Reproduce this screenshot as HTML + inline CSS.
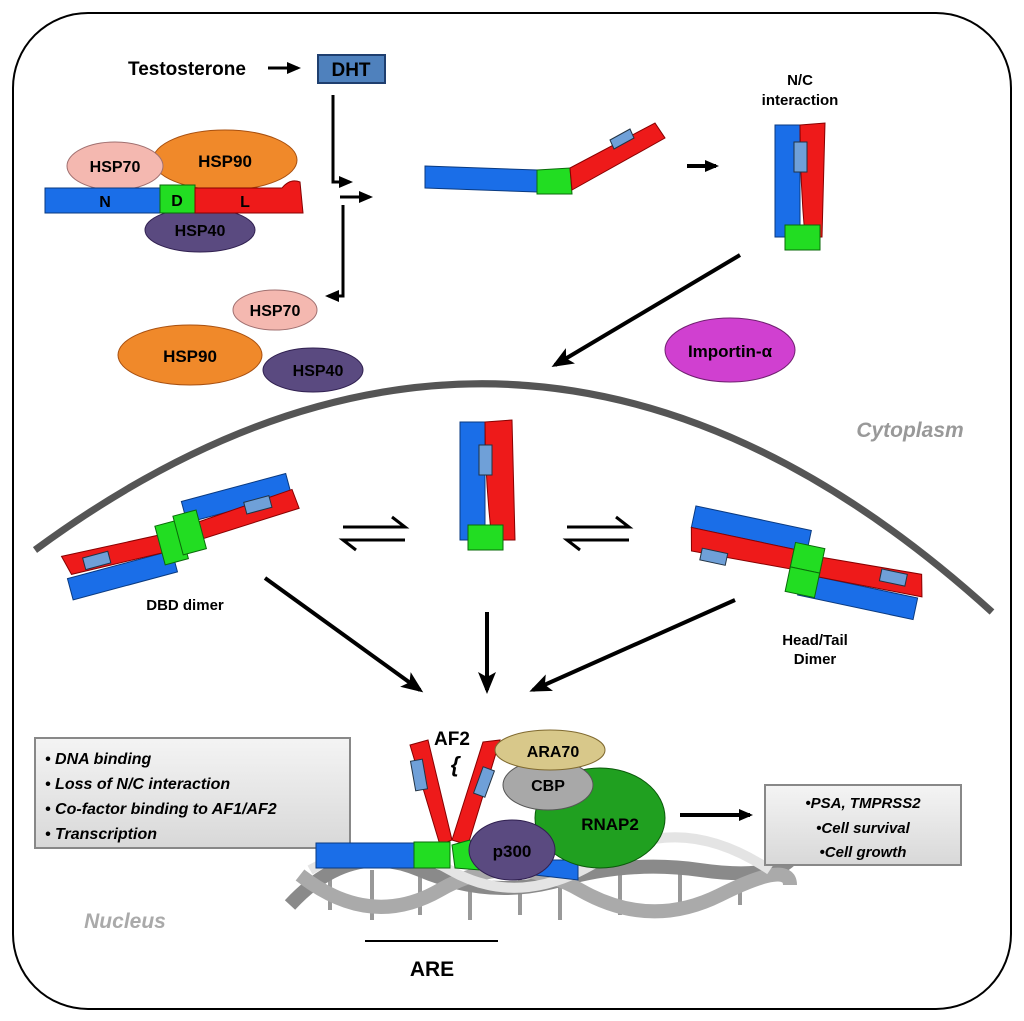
<!DOCTYPE html>
<html><head><style>
html,body{margin:0;padding:0;background:#fff;}
svg{display:block;font-family:"Liberation Sans",sans-serif;}
</style></head><body>
<svg width="1024" height="1021" viewBox="0 0 1024 1021" xmlns="http://www.w3.org/2000/svg">
<defs>
<marker id="ah" markerWidth="14" markerHeight="12" refX="11" refY="6" orient="auto" markerUnits="userSpaceOnUse"><path d="M0,0 L14,6 L0,12 Z" fill="#000"/></marker>
<marker id="ahb" markerWidth="22" markerHeight="18" refX="18" refY="9" orient="auto" markerUnits="userSpaceOnUse"><path d="M0,0 L22,9 L0,18 L5,9 Z" fill="#000"/></marker>
<linearGradient id="bx" x1="0" y1="0" x2="0" y2="1"><stop offset="0" stop-color="#f4f4f4"/><stop offset="1" stop-color="#d8d8d8"/></linearGradient>
</defs>
<rect x="13" y="13" width="998" height="996" rx="75" fill="#fff" stroke="#000" stroke-width="2"/>

<text x="128" y="75" font-size="19" font-weight="bold">Testosterone</text>
<line x1="268" y1="68" x2="298" y2="68" stroke="#000" stroke-width="3" marker-end="url(#ah)"/>
<rect x="318" y="55" width="67" height="28" fill="#4f81bd" stroke="#1f3f6f" stroke-width="2"/>
<text x="351" y="76" font-size="19" font-weight="bold" text-anchor="middle">DHT</text>

<ellipse cx="225" cy="160" rx="72" ry="30" fill="#f0892a" stroke="#a85010"/>
<text x="225" y="167" font-size="17" font-weight="bold" text-anchor="middle">HSP90</text>
<ellipse cx="115" cy="166" rx="48" ry="24" fill="#f4b8b0" stroke="#a07070"/>
<text x="115" y="172" font-size="16" font-weight="bold" text-anchor="middle">HSP70</text>
<ellipse cx="200" cy="230" rx="55" ry="22" fill="#5a4a80" stroke="#302050"/>
<text x="200" y="236" font-size="16" font-weight="bold" text-anchor="middle">HSP40</text>
<rect x="45" y="188" width="117" height="25" fill="#1a6ee8" stroke="#0a3a80"/>
<rect x="160" y="185" width="35" height="28" fill="#22dd22" stroke="#0a6a0a"/>
<path d="M195,188 L282,188 Q290,178 300,182 L303,213 L195,213 Z" fill="#ee1a1a" stroke="#800"/>
<text x="105" y="207" font-size="16" font-weight="bold" text-anchor="middle">N</text>
<text x="177" y="206" font-size="16" font-weight="bold" text-anchor="middle">D</text>
<text x="245" y="207" font-size="16" font-weight="bold" text-anchor="middle">L</text>

<path d="M333,95 L333,182 L350,182" fill="none" stroke="#000" stroke-width="3" marker-end="url(#ah)"/>
<line x1="340" y1="197" x2="370" y2="197" stroke="#000" stroke-width="3" marker-end="url(#ah)"/>
<path d="M343,205 L343,296 L328,296" fill="none" stroke="#000" stroke-width="3" marker-end="url(#ah)"/>

<ellipse cx="275" cy="310" rx="42" ry="20" fill="#f4b8b0" stroke="#a07070"/>
<text x="275" y="316" font-size="16" font-weight="bold" text-anchor="middle">HSP70</text>
<ellipse cx="313" cy="370" rx="50" ry="22" fill="#5a4a80" stroke="#302050"/>
<text x="318" y="376" font-size="16" font-weight="bold" text-anchor="middle">HSP40</text>
<ellipse cx="190" cy="355" rx="72" ry="30" fill="#f0892a" stroke="#a85010"/>
<text x="190" y="362" font-size="17" font-weight="bold" text-anchor="middle">HSP90</text>

<polygon points="425,166 537,170 537,192 425,188" fill="#1a6ee8" stroke="#0a3a80"/>
<polygon points="537,170 570,168 572,194 537,194" fill="#22dd22" stroke="#0a6a0a"/>
<polygon points="570,168 655,123 665,138 572,190" fill="#ee1a1a" stroke="#800"/>
<polygon points="610,140 630,129 634,138 614,149" fill="#6fa0d8" stroke="#234"/>
<line x1="687" y1="166" x2="716" y2="166" stroke="#000" stroke-width="4" marker-end="url(#ah)"/>

<text x="800" y="85" font-size="15" font-weight="bold" text-anchor="middle">N/C</text>
<text x="800" y="105" font-size="15" font-weight="bold" text-anchor="middle">interaction</text>
<rect x="775" y="125" width="25" height="112" fill="#1a6ee8" stroke="#0a3a80"/>
<path d="M800,125 L825,123 L822,237 L805,237 Q800,180 800,125Z" fill="#ee1a1a" stroke="#800"/>
<rect x="794" y="142" width="13" height="30" fill="#6fa0d8" stroke="#234"/>
<rect x="785" y="225" width="35" height="25" fill="#22dd22" stroke="#0a6a0a"/>

<line x1="740" y1="255" x2="555" y2="365" stroke="#000" stroke-width="4" marker-end="url(#ahb)"/>
<ellipse cx="730" cy="350" rx="65" ry="32" fill="#d040d0" stroke="#702070"/>
<text x="730" y="357" font-size="17" font-weight="bold" text-anchor="middle">Importin-α</text>

<path d="M35,550 Q526,189 992,612" fill="none" stroke="#555" stroke-width="7"/>
<text x="910" y="437" font-size="21" font-weight="bold" font-style="italic" fill="#999" text-anchor="middle">Cytoplasm</text>

<rect x="460" y="422" width="25" height="118" fill="#1a6ee8" stroke="#0a3a80"/>
<path d="M485,422 L512,420 L515,540 L492,540 Q485,480 485,422Z" fill="#ee1a1a" stroke="#800"/>
<rect x="479" y="445" width="13" height="30" fill="#6fa0d8" stroke="#234"/>
<rect x="468" y="525" width="35" height="25" fill="#22dd22" stroke="#0a6a0a"/>

<g stroke="#000" stroke-width="3" fill="none">
<path d="M343,527 L405,527 L392,517"/><path d="M405,540 L343,540 L356,550"/>
<path d="M567,527 L629,527 L616,517"/><path d="M629,540 L567,540 L580,550"/>
</g>

<g transform="rotate(-15 180 535)">
<rect x="60" y="548" width="108" height="22" fill="#1a6ee8" stroke="#0a3a80"/>
<rect x="190" y="503" width="108" height="22" fill="#1a6ee8" stroke="#0a3a80"/>
<path d="M60,525 L168,530 L168,548 L65,545 Z" fill="#ee1a1a" stroke="#800"/>
<path d="M190,528 L300,520 L302,540 L190,545 Z" fill="#ee1a1a" stroke="#800"/>
<rect x="80" y="532" width="26" height="12" fill="#6fa0d8" stroke="#234"/>
<rect x="250" y="520" width="26" height="12" fill="#6fa0d8" stroke="#234"/>
<rect x="158" y="520" width="24" height="40" fill="#22dd22" stroke="#0a6a0a"/>
<rect x="178" y="515" width="24" height="40" fill="#22dd22" stroke="#0a6a0a"/>
</g>
<text x="185" y="610" font-size="15" font-weight="bold" text-anchor="middle">DBD dimer</text>

<g transform="rotate(12 805 570)">
<rect x="685" y="530" width="118" height="22" fill="#1a6ee8" stroke="#0a3a80"/>
<rect x="803" y="574" width="118" height="22" fill="#1a6ee8" stroke="#0a3a80"/>
<path d="M685,552 L790,552 L790,572 L690,575 Z" fill="#ee1a1a" stroke="#800"/>
<path d="M820,554 L920,550 L925,572 L820,574 Z" fill="#ee1a1a" stroke="#800"/>
<rect x="700" y="570" width="26" height="12" fill="#6fa0d8" stroke="#234"/>
<rect x="880" y="553" width="26" height="12" fill="#6fa0d8" stroke="#234"/>
<rect x="790" y="545" width="30" height="25" fill="#22dd22" stroke="#0a6a0a"/>
<rect x="790" y="570" width="30" height="25" fill="#22dd22" stroke="#0a6a0a"/>
</g>
<text x="815" y="645" font-size="15" font-weight="bold" text-anchor="middle">Head/Tail</text>
<text x="815" y="664" font-size="15" font-weight="bold" text-anchor="middle">Dimer</text>

<line x1="265" y1="578" x2="420" y2="690" stroke="#000" stroke-width="4" marker-end="url(#ahb)"/>
<line x1="487" y1="612" x2="487" y2="690" stroke="#000" stroke-width="4" marker-end="url(#ahb)"/>
<line x1="735" y1="600" x2="533" y2="690" stroke="#000" stroke-width="4" marker-end="url(#ahb)"/>

<rect x="35" y="738" width="315" height="110" fill="url(#bx)" stroke="#888" stroke-width="2"/>
<g font-size="16" font-style="italic" font-weight="bold">
<text x="45" y="764">•  DNA binding</text>
<text x="45" y="789">•  Loss of N/C interaction</text>
<text x="45" y="814">•  Co-factor binding to AF1/AF2</text>
<text x="45" y="839">•  Transcription</text>
</g>

<g fill="none">
<g stroke="#999" stroke-width="4">
<line x1="330" y1="870" x2="330" y2="910"/><line x1="372" y1="870" x2="372" y2="920"/><line x1="420" y1="870" x2="420" y2="915"/>
<line x1="470" y1="870" x2="470" y2="920"/><line x1="520" y1="870" x2="520" y2="915"/><line x1="560" y1="870" x2="560" y2="920"/>
<line x1="620" y1="870" x2="620" y2="915"/><line x1="680" y1="870" x2="680" y2="915"/><line x1="740" y1="870" x2="740" y2="905"/>
</g>
<path d="M290,905 Q350,840 420,870 T560,880 T700,870 T790,860" stroke="#8a8a8a" stroke-width="14"/>
<path d="M300,875 Q370,930 440,890 T580,890 T720,895 T790,885" stroke="#aaa" stroke-width="14"/>
<path d="M310,870 Q380,830 450,870 T600,860 T770,870" stroke="#e4e4e4" stroke-width="10"/>
</g>

<rect x="316" y="843" width="104" height="25" fill="#1a6ee8" stroke="#0a3a80"/>
<polygon points="535,860 578,860 578,880 535,875" fill="#1a6ee8" stroke="#0a3a80"/>
<polygon points="410,745 428,740 452,840 440,845" fill="#ee1a1a" stroke="#800"/>
<polygon points="483,742 500,740 468,845 452,840" fill="#ee1a1a" stroke="#800"/>
<rect x="413" y="760" width="12" height="30" fill="#6fa0d8" stroke="#234" transform="rotate(-10 419 775)"/>
<rect x="478" y="768" width="12" height="28" fill="#6fa0d8" stroke="#234" transform="rotate(20 484 782)"/>
<rect x="414" y="842" width="36" height="26" fill="#22dd22" stroke="#0a6a0a"/>
<polygon points="452,845 470,840 480,870 455,868" fill="#22dd22" stroke="#0a6a0a"/>
<text x="452" y="745" font-size="19" font-weight="bold" text-anchor="middle">AF2</text>
<text x="455" y="772" font-size="22" font-weight="bold" text-anchor="middle" font-style="italic">{</text>

<ellipse cx="600" cy="818" rx="65" ry="50" fill="#20a020" stroke="#0a5a0a"/>
<text x="610" y="830" font-size="17" font-weight="bold" text-anchor="middle">RNAP2</text>
<ellipse cx="548" cy="785" rx="45" ry="25" fill="#a8a8a8" stroke="#555"/>
<text x="548" y="791" font-size="16" font-weight="bold" text-anchor="middle">CBP</text>
<ellipse cx="550" cy="750" rx="55" ry="20" fill="#d8c88a" stroke="#806a30"/>
<text x="553" y="757" font-size="16" font-weight="bold" text-anchor="middle">ARA70</text>
<ellipse cx="512" cy="850" rx="43" ry="30" fill="#5a4a80" stroke="#302050"/>
<text x="512" y="857" font-size="17" font-weight="bold" text-anchor="middle">p300</text>

<line x1="680" y1="815" x2="750" y2="815" stroke="#000" stroke-width="4" marker-end="url(#ah)"/>
<rect x="765" y="785" width="196" height="80" fill="url(#bx)" stroke="#888" stroke-width="2"/>
<g font-size="15" font-style="italic" font-weight="bold" text-anchor="middle">
<text x="863" y="808">•PSA, TMPRSS2</text>
<text x="863" y="833">•Cell survival</text>
<text x="863" y="857">•Cell growth</text>
</g>

<text x="125" y="928" font-size="21" font-weight="bold" font-style="italic" fill="#aaa" text-anchor="middle">Nucleus</text>
<line x1="365" y1="941" x2="498" y2="941" stroke="#000" stroke-width="2"/>
<text x="432" y="976" font-size="21" font-weight="bold" text-anchor="middle">ARE</text>
</svg>
</body></html>
